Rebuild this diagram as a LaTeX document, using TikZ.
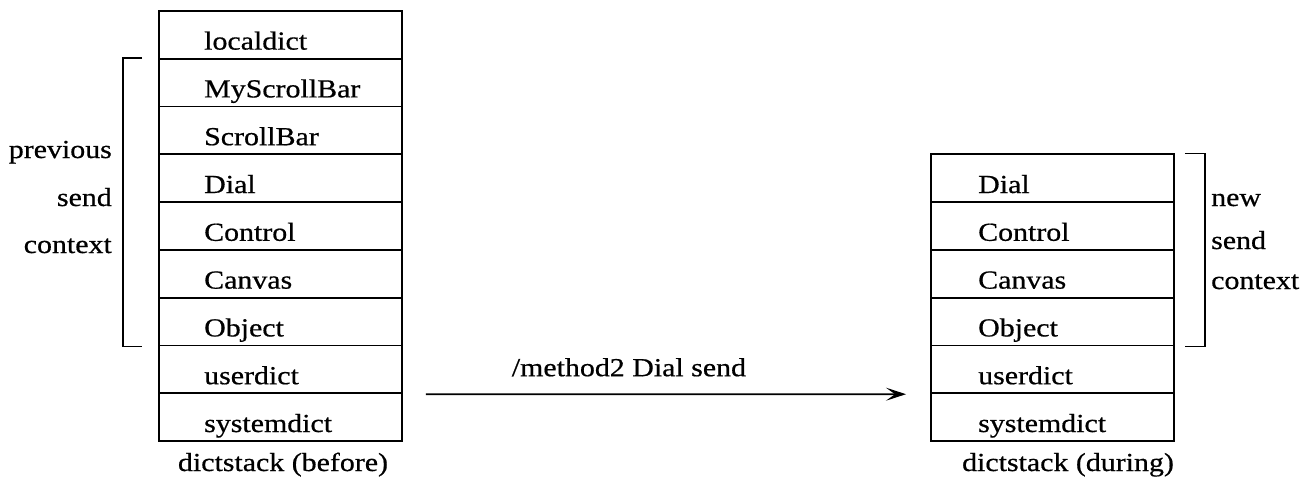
\documentclass[tikz,border=0pt]{standalone}
\usepackage{fontspec}
\setmainfont{Liberation Serif}[FakeStretch=1.15,FakeBold=0.6]
\usetikzlibrary{arrows.meta}
\begin{document}
\begin{tikzpicture}[x=1pt,y=-1pt,
  rowbox/.style={draw, line width=1.8pt, minimum width=243pt, minimum height=47.8pt, inner sep=0pt, anchor=north west},
  txt/.style={font=\fontsize{26pt}{30pt}\selectfont, inner sep=0pt},
  brk/.style={line width=1.8pt},
  arr/.style={line width=1.8pt, -{Stealth[length=20pt,width=13pt,inset=9pt]}}]
\useasboundingbox (0,0) rectangle (1315,485);
% left stack
\foreach \n/\t [count=\i from 0] in {L1/localdict,L2/MyScrollBar,L3/ScrollBar,L4/Dial,L5/Control,L6/Canvas,L7/Object,L8/userdict,L9/systemdict}{
  \node[rowbox] (\n) at (158,10+\i*47.8) {};
  \node[txt, anchor=base west] (\n t) at ([shift={(46pt,10pt)}]\n.south west) {\t};
}
% right stack
\foreach \n/\t [count=\i from 0] in {R1/Dial,R2/Control,R3/Canvas,R4/Object,R5/userdict,R6/systemdict}{
  \node[rowbox] (\n) at (930,153.4+\i*47.8) {};
  \node[txt, anchor=base west] (\n t) at ([shift={(48pt,10pt)}]\n.south west) {\t};
}
% brackets
\draw[brk] ([xshift=-16pt]L2.north west) -- ([xshift=-35pt]L2.north west) -- ([xshift=-35pt]L7.south west) -- ([xshift=-16pt]L7.south west);
\draw[brk] ([xshift=10pt]R1.north east) -- ([xshift=30pt]R1.north east) -- ([xshift=30pt]R4.south east) -- ([xshift=10pt]R4.south east);
% bracket labels
\node[txt, anchor=base east] (p1) at (112,158) {previous};
\node[txt, anchor=base east] (p2) at (112,206) {send};
\node[txt, anchor=base east] (p3) at (112,253) {context};
\node[txt, anchor=base west] (n1) at (1211,206) {new};
\node[txt, anchor=base west] (n2) at (1211,249) {send};
\node[txt, anchor=base west] (n3) at (1211,289) {context};
% arrow
\draw[arr] ([xshift=23pt]L8.south east) -- node[txt, pos=0.423, anchor=base, yshift=18pt] (m) {/method2 Dial send} ([xshift=-24pt]R5.south west);
% captions
\node[txt, anchor=base] (c1) at (283,471) {dictstack (before)};
\node[txt, anchor=base] (c2) at (1068,471) {dictstack (during)};
\end{tikzpicture}
\end{document}
